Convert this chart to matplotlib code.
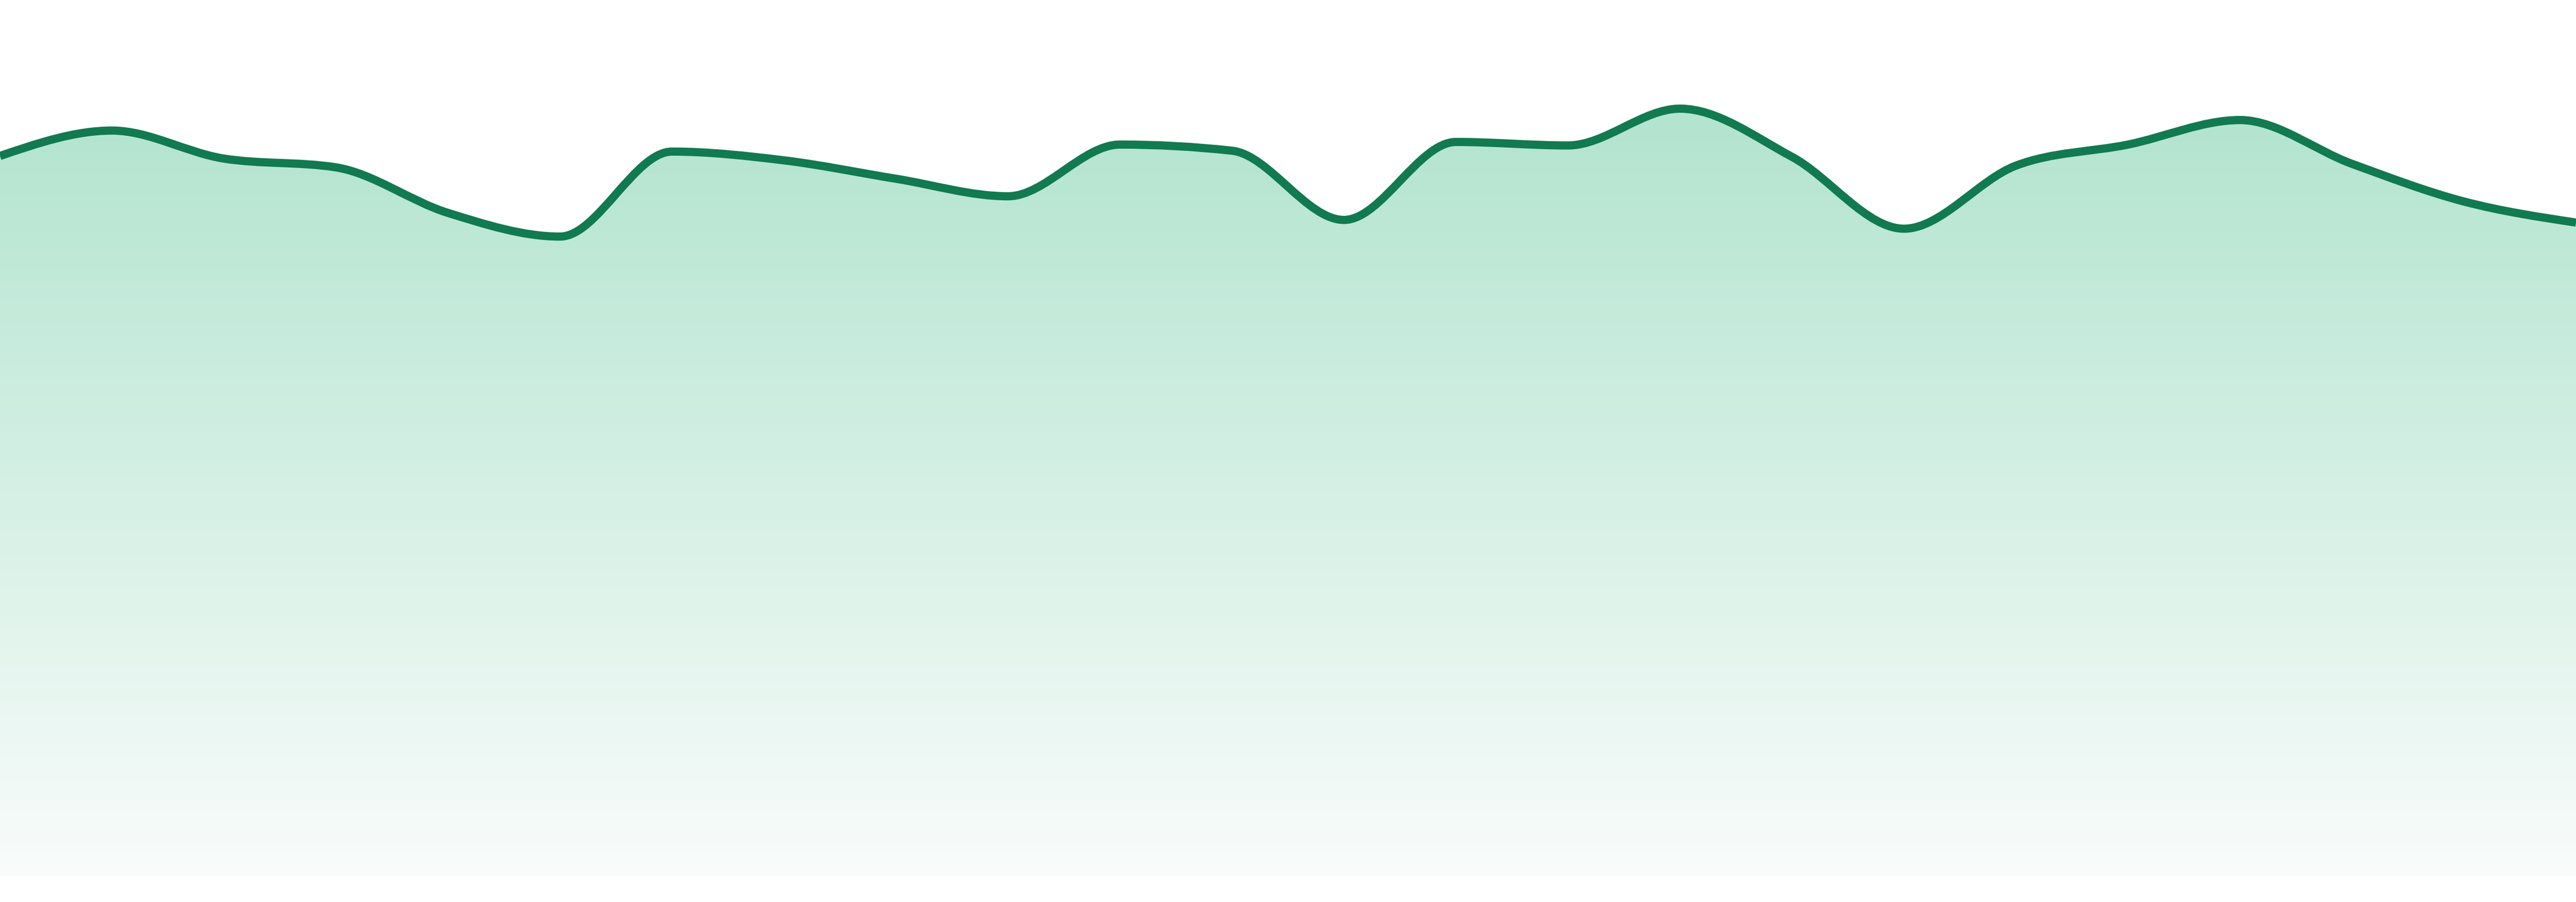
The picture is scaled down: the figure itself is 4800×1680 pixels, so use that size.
import numpy as np
import matplotlib
matplotlib.use("Agg")
import matplotlib.pyplot as plt
from matplotlib.path import Path
from matplotlib.patches import PathPatch
from matplotlib.colors import LinearSegmentedColormap

# ---- data ----
index = list(range(24))
values = [82.2, 85.1, 81.9, 80.9, 75.7, 73.0, 82.7, 81.7, 79.6, 77.6, 83.5, 82.8,
          74.9, 83.8, 83.4, 87.6, 82.1, 73.9, 81.1, 83.5, 86.3, 81.3, 77.0, 74.6]
y_min, y_max = 0, 100

line_color = "#117a50"
fill_top = "#b2e4cf"
fill_bottom = "#f9fcfb"


def monotone_tangents(x, y):
    x = np.asarray(x, float); y = np.asarray(y, float)
    n = len(x)
    t = np.zeros(n)
    for i in range(1, n - 1):
        h0 = x[i] - x[i - 1]; h1 = x[i + 1] - x[i]
        s0 = (y[i] - y[i - 1]) / h0; s1 = (y[i + 1] - y[i]) / h1
        p = (s0 * h1 + s1 * h0) / (h0 + h1)
        t[i] = (np.sign(s0) + np.sign(s1)) * min(abs(s0), abs(s1), 0.5 * abs(p))
    h = x[1] - x[0]
    t[0] = (3 * (y[1] - y[0]) / h - t[1]) / 2
    h = x[-1] - x[-2]
    t[-1] = (3 * (y[-1] - y[-2]) / h - t[-2]) / 2
    return t


def monotone_vertices(x, y):
    t = monotone_tangents(x, y)
    verts = [(x[0], y[0])]
    codes = [Path.MOVETO]
    for i in range(len(x) - 1):
        dx = (x[i + 1] - x[i]) / 3.0
        verts += [(x[i] + dx, y[i] + dx * t[i]),
                  (x[i + 1] - dx, y[i + 1] - dx * t[i + 1]),
                  (x[i + 1], y[i + 1])]
        codes += [Path.CURVE4] * 3
    return verts, codes


fig = plt.figure(figsize=(48, 16.8), dpi=100)
ax = fig.add_axes([0, 48 / 1680, 1, 1632 / 1680])
ax.set_xlim(index[0], index[-1])
ax.set_ylim(y_min, y_max)
ax.axis("off")

verts, codes = monotone_vertices(index, values)

# area with vertical gradient
a_verts = verts + [(index[-1], y_min), (index[0], y_min), (index[0], values[0])]
a_codes = codes + [Path.LINETO, Path.LINETO, Path.CLOSEPOLY]
area = PathPatch(Path(a_verts, a_codes), facecolor="none", edgecolor="none",
                 transform=ax.transData)
ax.add_patch(area)
cmap = LinearSegmentedColormap.from_list("g", [fill_bottom, fill_top])
grad = np.linspace(0, 1, 512).reshape(-1, 1)
im = ax.imshow(grad, cmap=cmap, origin="lower", aspect="auto",
               extent=[index[0], index[-1], y_min, max(values)],
               interpolation="bilinear", zorder=1)
im.set_clip_path(area)

# line
line = PathPatch(Path(verts, codes), facecolor="none", edgecolor=line_color,
                 linewidth=11.0, capstyle="butt", joinstyle="round", zorder=3)
ax.add_patch(line)

fig.savefig("out.png", dpi=100, facecolor="white")
